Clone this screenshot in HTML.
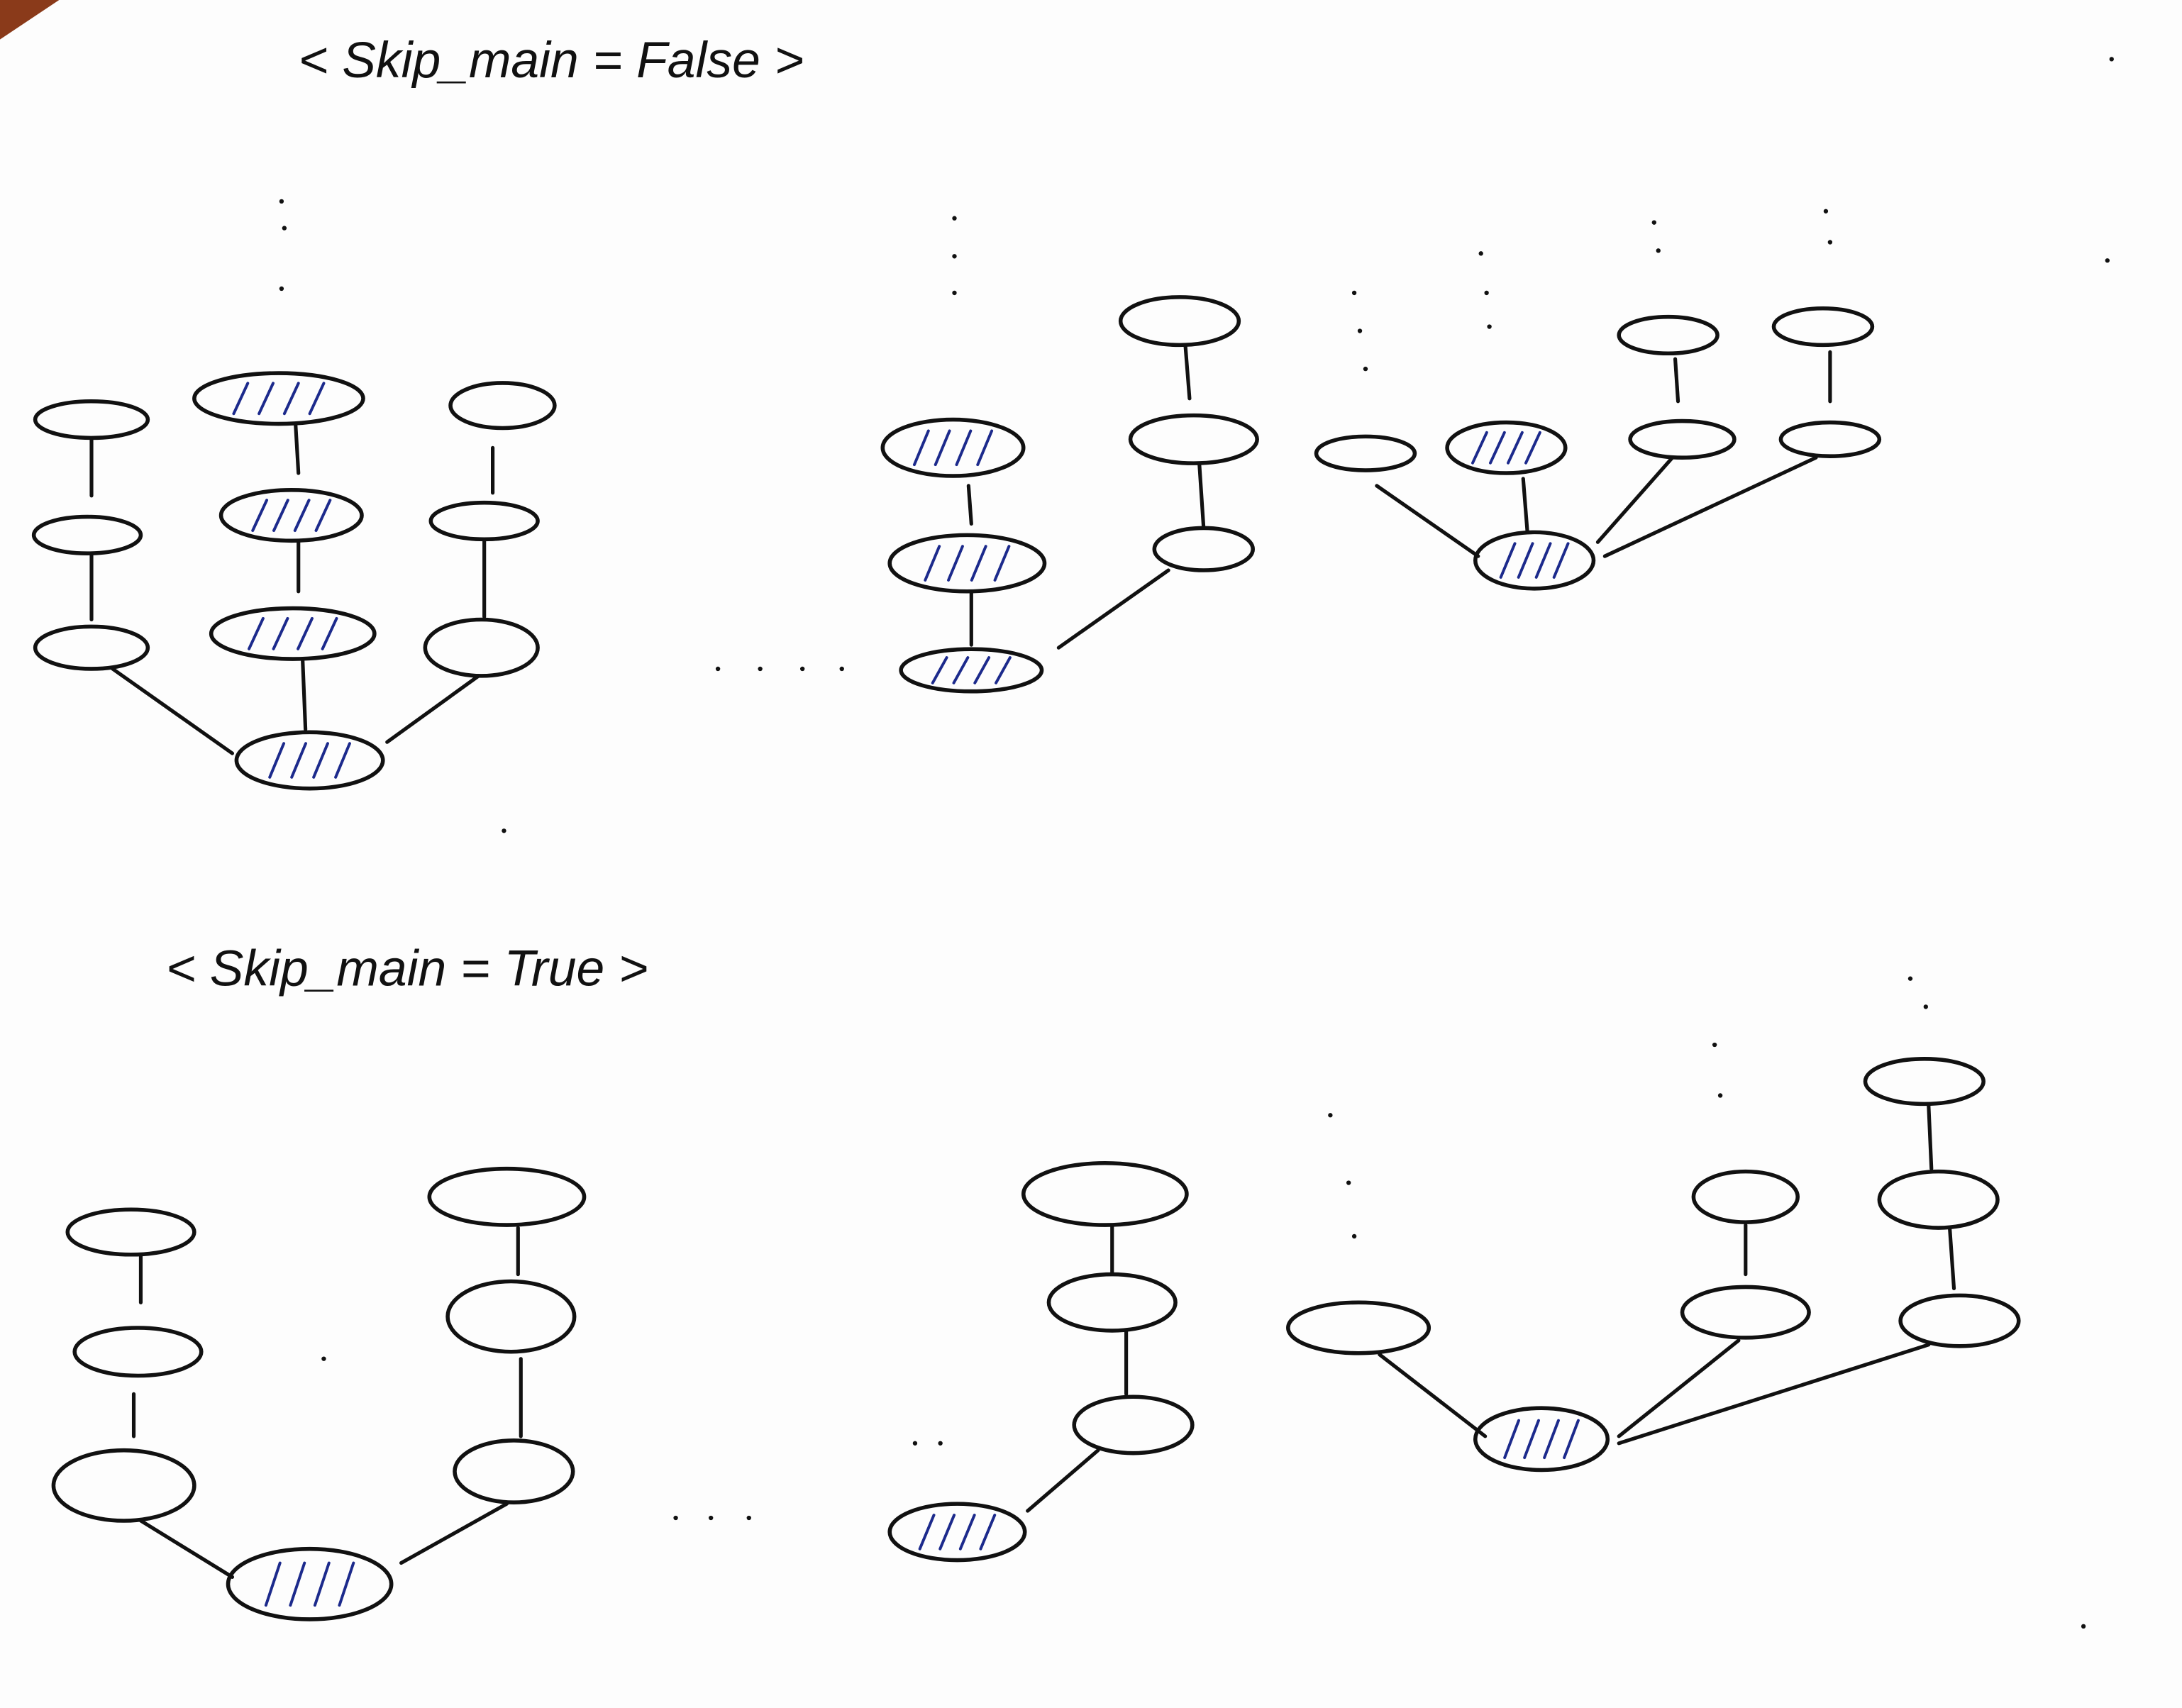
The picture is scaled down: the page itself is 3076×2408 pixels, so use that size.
<!DOCTYPE html>
<html><head><meta charset="utf-8"><style>
html,body{margin:0;padding:0;background:#fff;}
svg{display:block;}
</style></head><body>
<svg id="sk" width="3076" height="2408" viewBox="0 0 1550 1213" preserveAspectRatio="none" xmlns="http://www.w3.org/2000/svg">
<rect width="1550" height="1213" fill="#fdfdfd"/>
<polygon points="0,0 42,0 0,28" fill="#8a3a1a"/>
<text x="212" y="55" font-family="Liberation Sans, sans-serif" font-size="36" fill="#111" font-style="italic">&lt; Skip_main = False &gt;</text>
<text x="118" y="700" font-family="Liberation Sans, sans-serif" font-size="36" fill="#111" font-style="italic">&lt; Skip_main = True &gt;</text>
<g id="edges" stroke="#111" stroke-width="2.6" stroke-linecap="round"></g>
<g id="nodes"></g>
<g id="dots" fill="#111"></g>
</svg>
<script>
const nodes = [
[65,298,40,13,0],[62,380,38,13,0],[65,460,40,15,0],
[198,283,60,18,1],[207,366,50,18,1],[208,450,58,18,1],[220,540,52,20,1],
[357,288,37,16,0],[344,370,38,13,0],[342,460,40,20,0],
[677,318,50,20,1],[687,400,55,20,1],[690,476,50,15,1],
[838,228,42,17,0],[848,312,45,17,0],[855,390,35,15,0],
[970,322,35,12,0],[1070,318,42,18,1],[1090,398,42,20,1],
[1185,238,35,13,0],[1195,312,37,13,0],[1295,232,35,13,0],[1300,312,35,12,0],
[93,875,45,16,0],[98,960,45,17,0],[88,1055,50,25,0],
[360,850,55,20,0],[363,935,45,25,0],[365,1045,42,22,0],[220,1125,58,25,1],
[785,848,58,22,0],[790,925,45,20,0],[805,1012,42,20,0],[680,1088,48,20,1],
[965,943,50,18,0],[1095,1022,47,22,1],[1240,850,37,18,0],[1240,932,45,18,0],
[1367,768,42,16,0],[1377,852,42,20,0],[1392,938,42,18,0]
];
const edges = [
[65,312,65,352],[65,394,65,440],[80,475,165,535],
[210,302,212,336],[212,385,212,420],[215,469,217,518],
[350,318,350,350],[344,384,344,438],[275,527,340,480],
[688,345,690,372],[690,420,690,458],[752,460,830,405],
[842,245,845,283],[852,330,855,375],
[978,345,1050,395],[1082,340,1085,378],[1190,255,1192,285],[1135,385,1188,325],[1140,395,1290,325],[1300,250,1300,285],
[100,892,100,925],[95,990,95,1020],[100,1080,165,1120],
[368,872,368,905],[370,965,370,1020],[285,1110,360,1068],
[790,870,790,905],[800,945,800,990],[780,1030,730,1073],
[980,962,1055,1020],[1150,1020,1235,952],[1150,1025,1370,955],[1240,870,1240,905],[1370,785,1372,830],[1385,872,1388,915]
];
const dots = [
[200,143],[202,162],[200,205],[678,155],[678,182],[678,208],
[510,475],[540,475],[570,475],[598,475],
[962,208],[966,235],[970,262],[1052,180],[1056,208],[1058,232],
[1175,158],[1178,178],[1297,150],[1300,172],
[480,1078],[505,1078],[532,1078],[650,1025],[668,1025],
[945,792],[958,840],[962,878],[1218,742],[1222,778],[1357,695],[1368,715],
[1500,42],[1497,185],[358,590],[1480,1155],[230,965]
];
const NS='http://www.w3.org/2000/svg';
const eg=document.getElementById('edges'), ng=document.getElementById('nodes'), dg=document.getElementById('dots');
edges.forEach(e=>{
 const l=document.createElementNS(NS,'line');
 l.setAttribute('x1',e[0]);l.setAttribute('y1',e[1]);l.setAttribute('x2',e[2]);l.setAttribute('y2',e[3]);
 
 
 eg.appendChild(l);
});
nodes.forEach(n=>{
 const g=document.createElementNS(NS,'g');
 
 
 const el=document.createElementNS(NS,'ellipse');
 el.setAttribute('cx',n[0]);el.setAttribute('cy',n[1]);el.setAttribute('rx',n[2]);el.setAttribute('ry',n[3]);
 el.setAttribute('fill','none');el.setAttribute('stroke','#111');el.setAttribute('stroke-width','2.8');
 g.appendChild(el);
 if(n[4]){
  const k=4, w=n[2]*1.2;
  for(let i=0;i<k;i++){
   const x=n[0]-w/2+ (i+0.5)*w/k;
   const h=document.createElementNS(NS,'line');
   h.setAttribute('x1',x-5);h.setAttribute('y1',n[1]+n[3]*0.6);
   h.setAttribute('x2',x+5);h.setAttribute('y2',n[1]-n[3]*0.6);
   h.setAttribute('stroke','#1c2a8c');h.setAttribute('stroke-width','2');h.setAttribute('stroke-linecap','round');
   g.appendChild(h);
  }
 }
 ng.appendChild(g);
});
dots.forEach(d=>{
 const c=document.createElementNS(NS,'circle');
 c.setAttribute('cx',d[0]);c.setAttribute('cy',d[1]);c.setAttribute('r','1.6');
 
 
 dg.appendChild(c);
});
</script>
</body></html>
